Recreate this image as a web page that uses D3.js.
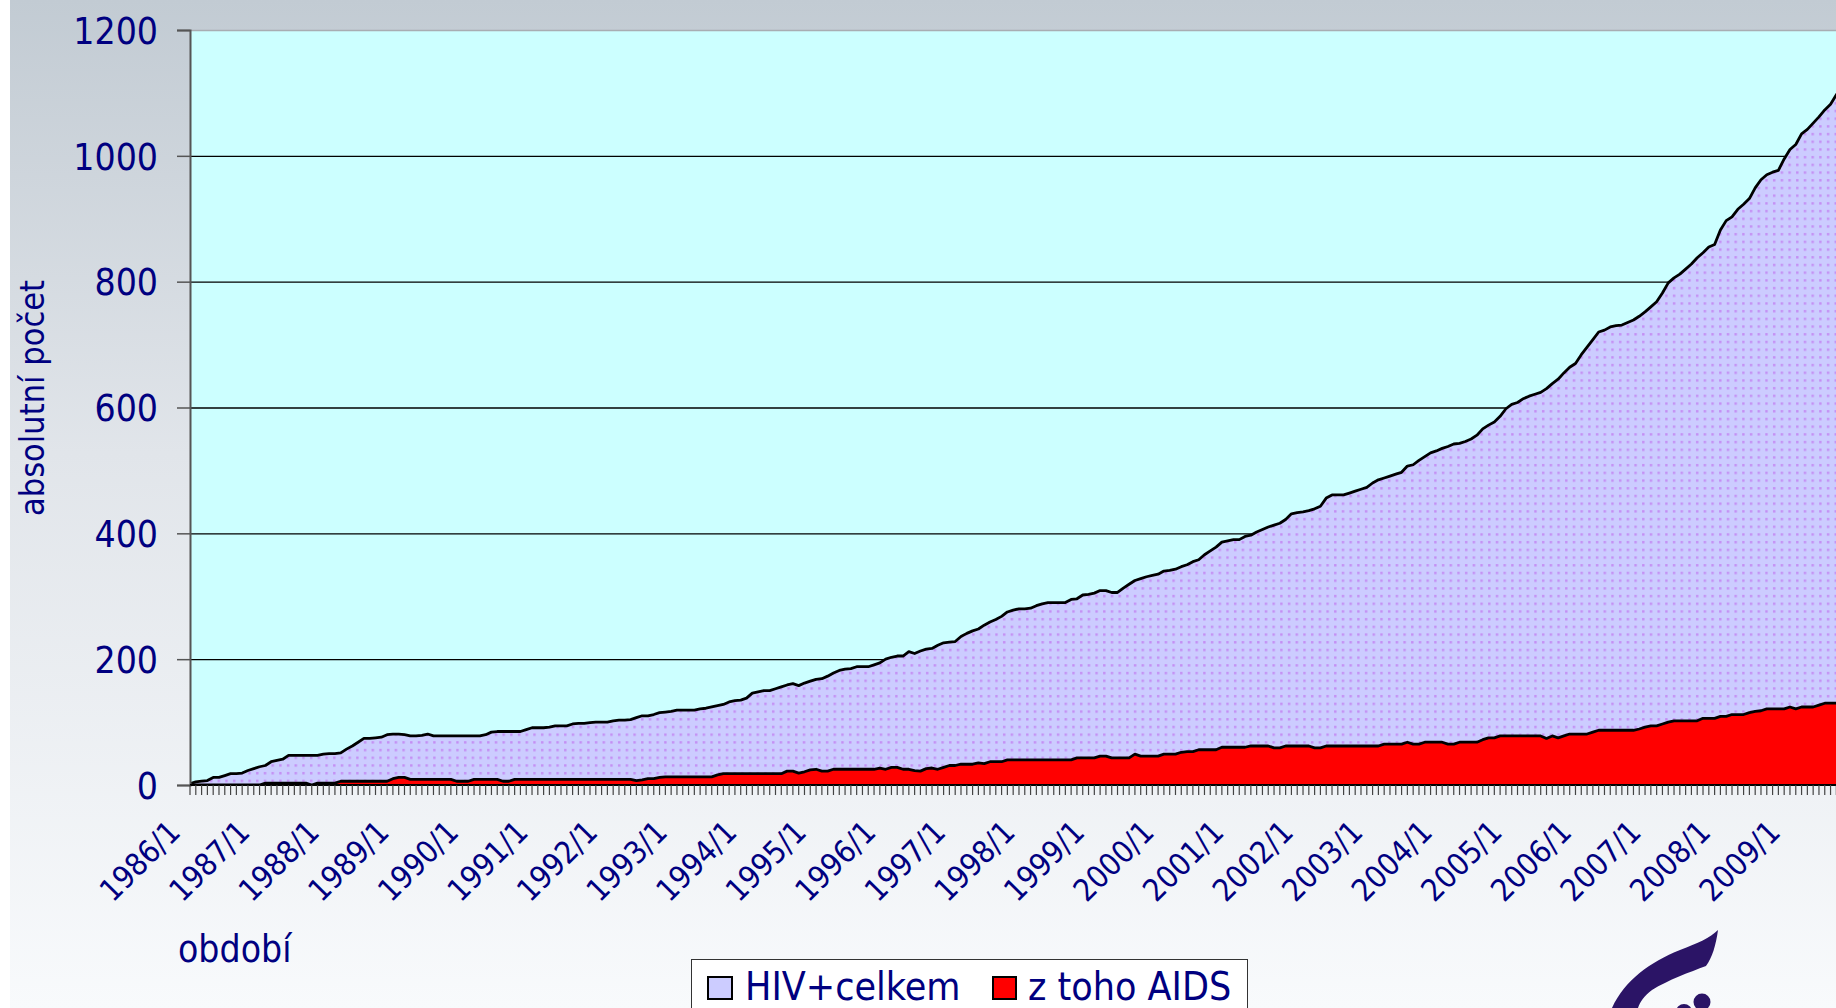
<!DOCTYPE html>
<html><head><meta charset="utf-8">
<script src="https://cdn.jsdelivr.net/npm/d3@7"></script>
<style>
html,body{margin:0;padding:0;background:#fff;}
svg{display:block;}
text{font-family:"DejaVu Sans Condensed","DejaVu Sans",sans-serif;font-stretch:condensed;fill:#000080;}
</style></head>
<body>
<svg id="chart" width="1836" height="1008"></svg>
<script>
// ---- DATA ----
const startYear = 1986;
const tickLabels = ["1986/1","1987/1","1988/1","1989/1","1990/1","1991/1","1992/1","1993/1","1994/1","1995/1","1996/1","1997/1","1998/1","1999/1","2000/1","2001/1","2002/1","2003/1","2004/1","2005/1","2006/1","2007/1","2008/1","2009/1"];
const yTicks = [0,200,400,600,800,1000,1200];
const seriesNames = ["HIV+celkem","z toho AIDS"];
// HIV+celkem, monthly from 1986/1
const hivTotal = [
2,5,6,7,12,12,15,18,18,19,23,26,
29,31,37,39,41,47,47,47,47,47,47,49,
50,50,51,57,62,68,74,74,75,76,80,81,
81,80,78,78,79,81,78,78,78,78,78,78,
78,78,78,80,84,85,85,85,85,85,88,91,
91,91,92,94,94,94,97,98,98,99,100,100,
100,102,103,103,104,107,110,110,112,115,116,117,
119,119,119,119,121,122,124,126,128,132,134,135,
138,146,148,150,150,153,156,159,161,158,162,165,
168,169,173,178,182,184,185,188,188,188,191,194,
200,203,205,205,212,209,213,216,217,222,226,227,
228,236,241,245,248,254,259,263,268,275,278,280,
280,281,285,288,290,290,290,290,295,296,302,303,
305,309,309,306,306,313,319,325,328,331,333,335,
340,341,343,347,350,355,358,366,372,378,386,388,
390,390,395,397,402,406,410,413,416,422,431,433,
434,436,439,443,456,461,461,461,464,467,470,473,
480,485,488,491,494,497,507,509,516,522,528,531,
535,538,542,543,546,550,556,566,572,577,586,598,
605,608,614,618,621,624,630,638,645,655,664,670,
684,696,708,720,723,728,730,731,735,739,745,752,
760,768,782,798,806,812,820,828,838,846,855,859,
882,897,903,915,923,932,949,962,970,974,977,995,
1010,1018,1035,1042,1052,1062,1073,1082,1097,1110
];
// z toho AIDS, monthly from 1986/1
const aids = [
0,0,0,0,0,0,0,0,0,0,0,0,
0,3,3,3,3,3,3,3,3,0,3,3,
3,3,6,6,6,6,6,6,6,6,6,10,
12,12,9,9,9,9,9,9,9,9,6,6,
6,9,9,9,9,9,6,6,9,9,9,9,
9,9,9,9,9,9,9,9,9,9,9,9,
9,9,9,9,9,7,8,10,10,12,13,13,
13,13,13,13,13,13,13,16,18,18,18,18,
18,18,18,18,18,18,18,22,22,19,21,24,
25,22,22,25,25,25,25,25,25,25,25,27,
25,28,28,25,25,23,22,26,27,25,28,31,
31,33,33,33,35,34,37,37,37,40,40,40,
40,40,40,40,40,40,40,40,40,43,43,43,
43,46,46,43,43,43,43,49,46,46,46,46,
49,49,49,52,53,53,56,56,56,56,60,60,
60,60,60,62,62,62,62,59,59,62,62,62,
62,62,59,59,62,62,62,62,62,62,62,62,
62,62,65,65,65,65,68,65,65,68,68,68,
68,65,65,68,68,68,68,72,75,75,78,78,
78,78,78,78,78,78,74,78,75,78,81,81,
81,81,84,87,87,87,87,87,87,87,89,92,
94,94,97,100,102,102,102,102,102,106,106,106,
109,109,112,112,112,115,117,118,121,121,121,121,
124,121,124,124,124,127,130,130,130,130
];
const months = hivTotal.map((_, i) => `${startYear + Math.floor(i / 12)}/${(i % 12) + 1}`);

// ---- LAYOUT ----
const W = 1836, H = 1008;
const plot = {left: 190, top: 30, bottom: 785};
const monthStep = 5.797;
const FONT = '"DejaVu Sans Condensed","DejaVu Sans",sans-serif';

const svg = d3.select("#chart");
const defs = svg.append("defs");

const bg = defs.append("linearGradient").attr("id","bg").attr("x1",0).attr("y1",0).attr("x2",0).attr("y2",1);
bg.append("stop").attr("offset","0").attr("stop-color","#c2cbd3");
bg.append("stop").attr("offset","0.45").attr("stop-color","#e1e5ea");
bg.append("stop").attr("offset","1").attr("stop-color","#f8fafc");

const ps = 15.4;
const pat = defs.append("pattern").attr("id","dots").attr("patternUnits","userSpaceOnUse")
  .attr("width",ps).attr("height",ps);
pat.append("rect").attr("width",ps).attr("height",ps).attr("fill","#ccccff");
[[2,2],[9.7,9.7],[9.7,2],[2,9.7]].forEach(([px,py]) =>
  pat.append("rect").attr("x",px).attr("y",py).attr("width",2.4).attr("height",2.4).attr("fill","#c48ef4"));

const clip = defs.append("clipPath").attr("id","plotclip");
clip.append("rect").attr("x",plot.left).attr("y",plot.top).attr("width",W-plot.left).attr("height",plot.bottom-plot.top+1);

// background
svg.append("rect").attr("width",W).attr("height",H).attr("fill","#ffffff");
svg.append("rect").attr("x",10).attr("width",W-10).attr("height",H).attr("fill","url(#bg)");

const x = d3.scaleLinear().domain([0, months.length - 1])
  .range([plot.left, plot.left + (months.length - 1) * monthStep]);
const y = d3.scaleLinear().domain([0,1200]).range([plot.bottom, plot.top]);

// plot area
svg.append("rect").attr("x",plot.left).attr("y",plot.top).attr("width",W-plot.left).attr("height",plot.bottom-plot.top).attr("fill","#ccffff");

// grid
const g = svg.append("g");
g.selectAll("line.grid").data(yTicks.filter(d => d > 0 && d < 1200)).join("line")
  .attr("x1",plot.left).attr("x2",W).attr("y1",d=>y(d)+0.5).attr("y2",d=>y(d)+0.5)
  .attr("stroke","#000").attr("stroke-width",1.3);
g.append("line").attr("x1",plot.left).attr("x2",W).attr("y1",plot.top+0.5).attr("y2",plot.top+0.5)
  .attr("stroke","#a8adb2").attr("stroke-width",1.5);

// areas
const plotG = svg.append("g").attr("clip-path","url(#plotclip)");
const areaGen = d3.area().x((d,i)=>x(i)).y0(y(0)).y1(d=>y(d));
const lineGen = d3.line().x((d,i)=>x(i)).y(d=>y(d));
plotG.append("path").datum(hivTotal).attr("d",areaGen).attr("fill","url(#dots)");
plotG.append("path").datum(hivTotal).attr("d",lineGen).attr("fill","none").attr("stroke","#000").attr("stroke-width",2.8).attr("stroke-linejoin","round");
plotG.append("path").datum(aids).attr("d",areaGen).attr("fill","#ff0000");
plotG.append("path").datum(aids).attr("d",lineGen).attr("fill","none").attr("stroke","#000").attr("stroke-width",2.8).attr("stroke-linejoin","round");

// y axis
const yAxis = d3.axisLeft(y).tickValues(yTicks).tickFormat(d3.format("d")).tickSize(13).tickPadding(19);
const yg = svg.append("g").attr("transform",`translate(${plot.left},0)`).call(yAxis);
yg.select(".domain").attr("stroke","#555").attr("stroke-width",2);
yg.selectAll(".tick line").attr("stroke","#555").attr("stroke-width",1.5);
yg.selectAll(".tick text").attr("font-size",37).attr("fill","#000080")
  .style("font-family",FONT).attr("dy","0.36em");

// x axis
svg.append("line").attr("x1",plot.left).attr("x2",W).attr("y1",plot.bottom).attr("y2",plot.bottom).attr("stroke","#000").attr("stroke-width",2.2);
svg.append("g").selectAll("line").data(d3.range(0, months.length + 2)).join("line")
  .attr("x1",d=>x(d)).attr("x2",d=>x(d)).attr("y1",plot.bottom).attr("y2",plot.bottom+10)
  .attr("stroke","#444").attr("stroke-width",1.2);

const labelIdx = tickLabels.map(l => months.indexOf(l));
svg.append("g").selectAll("text").data(tickLabels).join("text")
  .attr("transform",(d,i)=>`translate(${x(labelIdx[i]) - 8},834) rotate(-45)`)
  .attr("text-anchor","end").attr("font-size",31).text(d=>d);

// axis titles
svg.append("text").attr("transform","translate(44,398) rotate(-90)").attr("text-anchor","middle")
  .attr("font-size",34).text("absolutní počet");
svg.append("text").attr("x",178).attr("y",962).attr("font-size",37).text("období");

// legend
const leg = svg.append("g");
leg.append("rect").attr("x",691.5).attr("y",959.5).attr("width",556).attr("height",70).attr("fill","#ffffff").attr("stroke","#333").attr("stroke-width",1);
leg.append("rect").attr("x",708).attr("y",977).attr("width",24).attr("height",22).attr("fill","#ccccff").attr("stroke","#000").attr("stroke-width",2);
leg.append("text").attr("x",745).attr("y",1000).attr("font-size",39).text(seriesNames[0]);
leg.append("rect").attr("x",993).attr("y",977).attr("width",23).attr("height",22).attr("fill","#ff0000").attr("stroke","#000").attr("stroke-width",2);
leg.append("text").attr("x",1028).attr("y",1000).attr("font-size",39).text(seriesNames[1]);

// logo (decorative)
const logo = svg.append("g").attr("fill","#2b1466");
logo.append("path").attr("d","M1612,1008 C1625,980 1650,962 1680,950 C1698,943 1710,938 1718,930 C1716,945 1712,958 1706,966 C1690,972 1668,980 1652,990 C1644,996 1640,1002 1638,1008 Z");
logo.append("circle").attr("cx",1702).attr("cy",1002).attr("r",8.5);
logo.append("circle").attr("cx",1684).attr("cy",1012).attr("r",8);
</script>
</body></html>
